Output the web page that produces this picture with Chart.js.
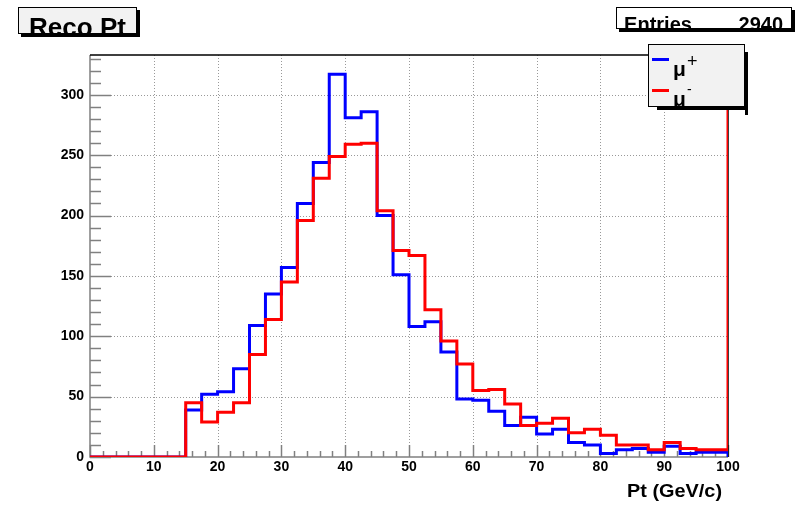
<!DOCTYPE html>
<html>
<head>
<meta charset="utf-8">
<title>Reco Pt</title>
<script src="https://cdn.jsdelivr.net/npm/chart.js@4.4.1/dist/chart.umd.min.js"></script>
<style>
  html, body { margin: 0; padding: 0; background: #fff; }
  #chart { display: block; }
</style>
</head>
<body>
<canvas id="chart" width="803" height="505"></canvas>
<script>
// Pt histogram bin edges (GeV/c), 40 bins of 2.5
const binEdges = [0, 2.5, 5, 7.5, 10, 12.5, 15, 17.5, 20, 22.5, 25, 27.5, 30, 32.5, 35, 37.5,
    40, 42.5, 45, 47.5, 50, 52.5, 55, 57.5, 60, 62.5, 65, 67.5, 70, 72.5, 75, 77.5,
    80, 82.5, 85, 87.5, 90, 92.5, 95, 97.5, 100];

// bin contents, mu+ (blue) and mu- (red)
const muPlus = [0, 0, 0, 0, 0, 0, 39, 52, 54, 73, 109, 135, 157, 210, 244, 317,
    281, 286, 200, 151, 108, 112, 87, 48, 47, 38, 26, 33, 19, 23, 12, 10,
    3, 6, 7, 4, 9, 3, 4, 4];
const muMinus = [0, 0, 0, 0, 0, 0, 45, 29, 37, 45, 85, 114, 145, 196, 231, 249,
    259, 260, 204, 171, 167, 122, 96, 77, 55, 56, 44, 26, 28, 32, 20, 23,
    18, 10, 10, 6, 12, 7, 6, 6];

const xTicks = [0, 10, 20, 30, 40, 50, 60, 70, 80, 90, 100];
const yTicks = [0, 50, 100, 150, 200, 250, 300];
const yMax = 333;
const entries = 2940;

const FONT = '"Liberation Sans", Arial, Helvetica, sans-serif';
const AXIS_GRAY = '#808080';

/**
 * Turn bin contents into points for a stepped line (one point per left edge)
 */
function histPoints(values, closeY) {
    const pts = values.map((v, i) => ({x: binEdges[i], y: v}));
    pts.push({x: binEdges[binEdges.length - 1], y: closeY});
    return pts;
}

// draw text squeezed/stretched to a given width (ROOT fonts run wide)
function fitText(ctx, text, x, y, width) {
    const w = ctx.measureText(text).width;
    ctx.save();
    ctx.translate(x, y);
    ctx.scale(width / w, 1);
    ctx.fillText(text, 0, 0);
    ctx.restore();
}

function shadowBox(ctx, x, y, w, h, fill, sx, sy) {
    ctx.fillStyle = '#000';
    ctx.fillRect(x + w, y + sy, 3, h);      // right shadow
    ctx.fillRect(x + sx, y + h, w + 3 - sx, 3); // bottom shadow
    ctx.fillStyle = fill;
    ctx.fillRect(x, y, w, h);
    ctx.strokeStyle = '#000';
    ctx.lineWidth = 1;
    ctx.strokeRect(x + 0.5, y + 0.5, w - 1, h - 1);
}

const rootFrame = {
    id: 'rootFrame',
    beforeDatasetsDraw(chart) {
        const {ctx, chartArea: a, scales: {x, y}} = chart;
        ctx.save();

        // dotted grid
        ctx.strokeStyle = '#999';
        ctx.lineWidth = 1;
        ctx.setLineDash([1, 2]);
        xTicks.forEach(v => {
            if (v === 0 || v === 100) return;
            const px = Math.round(x.getPixelForValue(v)) + 0.5;
            ctx.beginPath();
            ctx.moveTo(px, a.top);
            ctx.lineTo(px, a.bottom);
            ctx.stroke();
        });
        yTicks.forEach(v => {
            if (v === 0) return;
            const py = Math.round(y.getPixelForValue(v)) + 0.5;
            ctx.beginPath();
            ctx.moveTo(a.left, py);
            ctx.lineTo(a.right, py);
            ctx.stroke();
        });
        ctx.setLineDash([]);

        // ticks inside the frame
        ctx.strokeStyle = AXIS_GRAY;
        ctx.lineWidth = 1.5;
        for (let v = 0; v <= yMax; v += 10) {
            const py = Math.round(y.getPixelForValue(v)) + 0.5;
            const len = v % 50 === 0 ? 21 : 11;
            ctx.beginPath();
            ctx.moveTo(a.left, py);
            ctx.lineTo(a.left + len, py);
            ctx.stroke();
        }
        for (let v = 0; v <= 100; v += 2) {
            const px = Math.round(x.getPixelForValue(v)) + 0.5;
            const len = v % 10 === 0 ? 12 : 6;
            ctx.beginPath();
            ctx.moveTo(px, a.bottom);
            ctx.lineTo(px, a.bottom - len);
            ctx.stroke();
        }

        // frame
        ctx.beginPath();
        ctx.moveTo(a.left, a.top);
        ctx.lineTo(a.left, a.bottom);
        ctx.lineTo(a.right, a.bottom);
        ctx.stroke();
        ctx.strokeStyle = '#000';
        ctx.lineWidth = 1.5;
        ctx.beginPath();
        ctx.moveTo(a.left, a.top);
        ctx.lineTo(a.right, a.top);
        ctx.lineTo(a.right, a.bottom);
        ctx.stroke();
        ctx.restore();
    },
    afterDraw(chart) {
        const {ctx} = chart;
        ctx.save();
        ctx.textBaseline = 'alphabetic';
        ctx.textAlign = 'left';

        // title box
        shadowBox(ctx, 18, 7, 119, 27, '#f2f2f2', 3, 3);
        ctx.save();
        ctx.beginPath();
        ctx.rect(18, 7, 119, 27);
        ctx.clip();
        ctx.fillStyle = '#000';
        ctx.font = 'bold 26px ' + FONT;
        fitText(ctx, 'Reco Pt', 29, 35.5, 97);
        ctx.restore();

        // stats box
        shadowBox(ctx, 616, 7, 176, 22, '#fff', 3, 3);
        ctx.save();
        ctx.beginPath();
        ctx.rect(616, 7, 176, 22);
        ctx.clip();
        ctx.fillStyle = '#000';
        ctx.font = 'bold 20px ' + FONT;
        fitText(ctx, 'Entries', 624, 30.5, 68);
        const num = String(entries);
        const nw = ctx.measureText(num).width;
        ctx.fillText(num, 783 - nw, 30.5);
        ctx.restore();

        // legend
        shadowBox(ctx, 648, 44, 97, 63, '#f2f2f2', 9, 8);
        ctx.lineWidth = 3;
        ctx.strokeStyle = '#0000ff';
        ctx.beginPath();
        ctx.moveTo(652, 59.5);
        ctx.lineTo(669, 59.5);
        ctx.stroke();
        ctx.strokeStyle = '#ff0000';
        ctx.beginPath();
        ctx.moveTo(652, 90.5);
        ctx.lineTo(669, 90.5);
        ctx.stroke();
        ctx.fillStyle = '#000';
        ctx.font = 'bold 21px ' + FONT;
        ctx.fillText('\u03bc', 673, 76);
        ctx.fillText('\u03bc', 673, 106);
        ctx.font = '18px ' + FONT;
        ctx.fillText('+', 687, 67);
        ctx.font = '14px ' + FONT;
        ctx.fillText('-', 687, 94);

        // x axis title
        ctx.font = 'bold 18px ' + FONT;
        fitText(ctx, 'Pt (GeV/c)', 627, 497, 95);
        ctx.restore();
    }
};

new Chart(document.getElementById('chart'), {
    type: 'line',
    data: {
        datasets: [
            {
                label: '\u03bc+',
                data: histPoints(muPlus, 0),
                borderColor: '#0000ff',
                order: 1
            },
            {
                label: '\u03bc-',
                data: histPoints(muMinus, yMax),
                borderColor: '#ff0000',
                order: 0
            }
        ]
    },
    options: {
        responsive: false,
        animation: false,
        layout: {padding: {top: 55, right: 75, left: 0, bottom: 0}},
        elements: {
            line: {borderWidth: 3, stepped: true, tension: 0, fill: false},
            point: {radius: 0, hoverRadius: 0}
        },
        plugins: {
            legend: {display: false},
            tooltip: {enabled: false}
        },
        scales: {
            x: {
                type: 'linear',
                min: 0,
                max: 100,
                afterBuildTicks: s => { s.ticks = xTicks.map(v => ({value: v})); },
                afterFit: s => { s.height = 48; },
                grid: {display: false, drawTicks: false},
                border: {display: false},
                ticks: {
                    color: '#000',
                    font: {family: FONT, size: 14, weight: 'bold'},
                    padding: 2,
                    maxRotation: 0,
                    autoSkip: false
                }
            },
            y: {
                min: 0,
                max: yMax,
                afterBuildTicks: s => { s.ticks = yTicks.map(v => ({value: v})); },
                afterFit: s => { s.width = 90; },
                grid: {display: false, drawTicks: false},
                border: {display: false},
                ticks: {
                    color: '#000',
                    font: {family: FONT, size: 14, weight: 'bold'},
                    padding: 6
                }
            }
        }
    },
    plugins: [rootFrame]
});
</script>
</body>
</html>
